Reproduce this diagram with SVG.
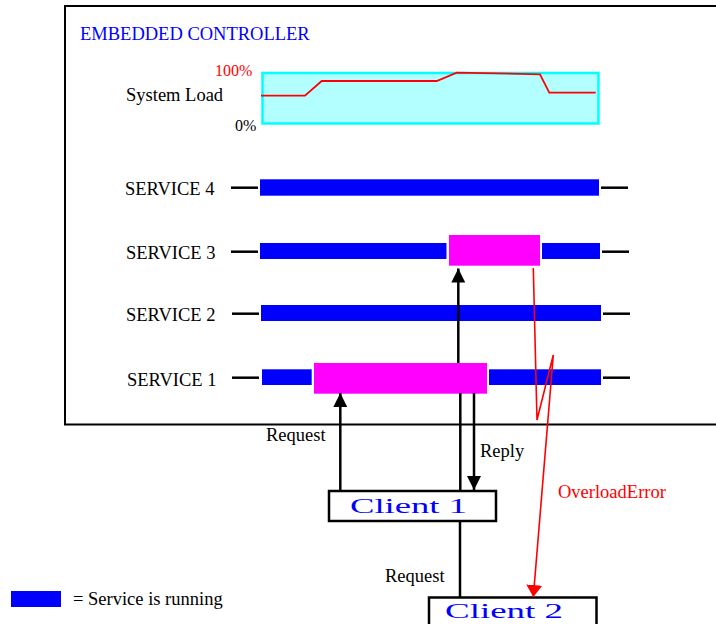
<svg xmlns="http://www.w3.org/2000/svg" width="716" height="624" viewBox="0 0 716 624">
<style>
text{font-family:"Liberation Serif","Times New Roman",serif;font-size:18.5px;fill:#000}
.title{fill:#0000ff}
.red{fill:#ff0000}
.pct{font-size:16px}
.client{fill:#0000ff;font-size:20px}
.run{fill:#0000ff}
.busy{fill:#ff00ff}
.dash{stroke:#000;stroke-width:2.5}
.frame{fill:none;stroke:#000;stroke-width:2}
.box{fill:#fff;stroke:#000;stroke-width:2.5}
.conn{fill:none;stroke:#000;stroke-width:2.5}
</style>
<defs>
<marker id="ah" markerUnits="userSpaceOnUse" markerWidth="14" markerHeight="14" viewBox="0 0 14 14" refX="14" refY="7" orient="auto">
<path d="M0,0 L14,7 L0,14 Z" fill="#000"/>
</marker>
<marker id="ahr" markerUnits="userSpaceOnUse" markerWidth="12" markerHeight="16" viewBox="0 0 12 16" refX="12" refY="8" orient="auto">
<path d="M0,0 L12,8 L0,16 Z" fill="#ff0000"/>
</marker>
</defs>

<g id="controller">
<path class="frame" d="M716,6 H65 V424.5 H716"/>
<text class="title" x="80" y="40">EMBEDDED CONTROLLER</text>
</g>

<g id="system-load">
<text x="126" y="101">System Load</text>
<text class="pct red" x="215" y="76">100%</text>
<text class="pct" x="235" y="131">0%</text>
<rect x="262.5" y="73" width="336" height="50.5" fill="#b3ffff" stroke="#00ffff" stroke-width="2.5"/>
<polyline points="261,95.7 305,95.7 321.7,81 436.7,81 456.7,72.7 540,74.3 549.3,92.7 595.7,92.7" fill="none" stroke="#ff0000" stroke-width="1.8"/>
</g>

<g id="service-4">
<text x="125" y="195">SERVICE 4</text>
<line class="dash" x1="231" y1="187.7" x2="258" y2="187.7"/>
<rect class="run" x="260" y="179.3" width="339" height="16.4"/>
<line class="dash" x1="601" y1="187.7" x2="628" y2="187.7"/>
</g>

<g id="service-3">
<text x="126" y="259">SERVICE 3</text>
<line class="dash" x1="231" y1="251.7" x2="258" y2="251.7"/>
<rect class="run" x="260" y="243" width="186.5" height="16"/>
<rect class="busy" x="449" y="235" width="91" height="30.7"/>
<rect class="run" x="542" y="243" width="58" height="16"/>
<line class="dash" x1="602" y1="251.7" x2="629" y2="251.7"/>
</g>

<g id="service-2">
<text x="126" y="321">SERVICE 2</text>
<line class="dash" x1="232" y1="313.7" x2="259" y2="313.7"/>
<rect class="run" x="261" y="305" width="340" height="16"/>
<line class="dash" x1="603" y1="313.7" x2="630" y2="313.7"/>
</g>

<g id="service-1">
<text x="127" y="386">SERVICE 1</text>
<line class="dash" x1="232" y1="377.7" x2="259" y2="377.7"/>
<rect class="run" x="262" y="369.3" width="49.7" height="15.7"/>
<rect class="busy" x="314" y="363" width="173" height="30.7"/>
<rect class="run" x="489" y="369.3" width="112" height="15.7"/>
<line class="dash" x1="603" y1="377.7" x2="630" y2="377.7"/>
</g>

<g id="client-1">
<rect class="box" x="329" y="491" width="167" height="30"/>
<text class="client" x="350" y="512.5" textLength="117" lengthAdjust="spacingAndGlyphs">Client 1</text>
</g>

<g id="client-2">
<rect class="box" x="429" y="597.5" width="167.5" height="40"/>
<text class="client" x="445" y="618" textLength="118" lengthAdjust="spacingAndGlyphs">Client 2</text>
</g>

<g id="legend">
<rect class="run" x="11" y="591" width="50" height="16"/>
<text x="73" y="605">= Service is running</text>
</g>

<g id="connectors">
<line class="conn" x1="340.3" y1="490" x2="340.3" y2="393" marker-end="url(#ah)"/>
<text x="266" y="441">Request</text>
<line class="conn" x1="458.3" y1="363" x2="458.3" y2="268.5" marker-end="url(#ah)"/>
<line class="conn" x1="460.3" y1="393" x2="460.3" y2="490"/>
<line class="conn" x1="474" y1="393" x2="474" y2="490" marker-end="url(#ah)"/>
<text x="480" y="457">Reply</text>
<line class="conn" x1="460" y1="522" x2="460" y2="597"/>
<text x="385" y="582">Request</text>
<polyline points="533.3,268 537,420 553.3,355 533.3,597" fill="none" stroke="#ff0000" stroke-width="1.6" marker-end="url(#ahr)"/>
<text class="red" x="558" y="498">OverloadError</text>
</g>
</svg>
